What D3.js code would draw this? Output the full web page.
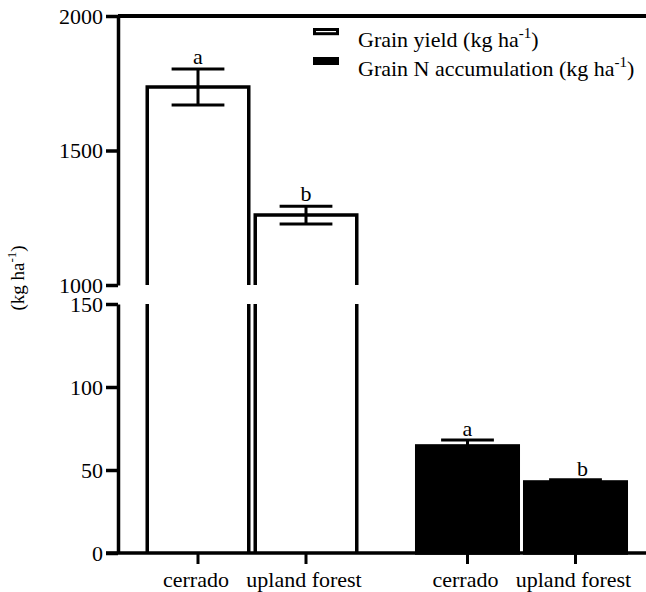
<!DOCTYPE html>
<html>
<head>
<meta charset="utf-8">
<script src="https://cdn.jsdelivr.net/npm/d3@7"></script>
</head>
<body style="margin:0;padding:0;background:#fff">
<svg id="chart" width="646" height="592"></svg>
<script>
// ---- data ----
const groups = ["Grain yield", "Grain N accumulation"];
const categories = ["cerrado", "upland forest"];
const yieldValues = [1736, 1260];
const yieldErrors = [67, 33];
const yieldLetters = ["a", "b"];
const nValues = [64.5, 42.8];
const nErrors = [3.5, 1.3];
const nLetters = ["a", "b"];
const upperTicks = [1000, 1500, 2000];
const lowerTicks = [0, 50, 100, 150];

const FONT = "Liberation Serif";
const svg = d3.select("#chart");
const W = 646;
const axisX = 118;
const fs = 22;

// scales
const outer = d3.scaleBand().domain(groups).range([144, 629.5]).paddingInner(0.1985).paddingOuter(0);
const inner = d3.scaleBand().domain(categories).range([0, outer.bandwidth()]).paddingInner(0.06).paddingOuter(0.03);
const yU = d3.scaleLinear().domain([1000, 2000]).range([285, 16]);
const yL = d3.scaleLinear().domain([0, 150]).range([553, 304]);

const lw = 3.5;
function txt(sel) { return sel.style("font-family", FONT).attr("fill", "#000"); }

// ---- white bars (grain yield) ----
const yieldData = categories.map((c, i) => ({c, v: yieldValues[i], e: yieldErrors[i], l: yieldLetters[i]}));
const gx0 = outer(groups[0]);
yieldData.forEach(d => {
  const x0 = gx0 + inner(d.c), x1 = x0 + inner.bandwidth();
  svg.append("path")
    .attr("d", `M${x0},${yU.range()[0]}V${yU(d.v)}H${x1}V${yU.range()[0]}`)
    .attr("fill", "#fff").attr("stroke", "#000").attr("stroke-width", lw);
  svg.append("path")
    .attr("d", `M${x0},${yL.range()[1]}V${yL.range()[0]}M${x1},${yL.range()[1]}V${yL.range()[0]}`)
    .attr("fill", "none").attr("stroke", "#000").attr("stroke-width", lw);
  const cx = (x0 + x1) / 2, cw = inner.bandwidth() * 0.26;
  svg.append("path")
    .attr("d", `M${cx},${yU(d.v + d.e)}V${yU(d.v - d.e)}M${cx - cw},${yU(d.v + d.e)}H${cx + cw}M${cx - cw},${yU(d.v - d.e)}H${cx + cw}`)
    .attr("fill", "none").attr("stroke", "#000").attr("stroke-width", 3);
  txt(svg.append("text")).attr("x", cx).attr("y", yU(d.v + d.e) - 5)
    .attr("text-anchor", "middle").attr("font-size", fs).text(d.l);
});

// ---- black bars (grain N) ----
const nData = categories.map((c, i) => ({c, v: nValues[i], e: nErrors[i], l: nLetters[i]}));
const gx1 = outer(groups[1]);
nData.forEach((d, i) => {
  const x0 = gx1 + inner(d.c), x1 = x0 + inner.bandwidth();
  svg.append("rect")
    .attr("x", x0).attr("y", yL(d.v)).attr("width", x1 - x0).attr("height", yL(0) - yL(d.v))
    .attr("fill", "#000").attr("stroke", "#000").attr("stroke-width", lw);
  const cx = (x0 + x1) / 2, cw = inner.bandwidth() * 0.26;
  svg.append("path")
    .attr("d", `M${cx},${yL(d.v)}V${yL(d.v + d.e)}M${cx - cw},${yL(d.v + d.e)}H${cx + cw}`)
    .attr("fill", "none").attr("stroke", "#000").attr("stroke-width", 3);
  txt(svg.append("text")).attr("x", cx + (i === 1 ? 7 : 0)).attr("y", yL(d.v + d.e) - 4)
    .attr("text-anchor", "middle").attr("font-size", fs).text(d.l);
});

// ---- y axes ----
function styleAxis(g) {
  g.attr("font-family", null).attr("font-size", null);
  g.selectAll(".domain").attr("stroke-width", lw).attr("stroke", "#000");
  g.selectAll(".tick line").attr("stroke-width", 3.5).attr("stroke", "#000");
  txt(g.selectAll(".tick text")).attr("font-size", fs).attr("dy", "0.34em");
}
const gU = svg.append("g").attr("transform", `translate(${axisX},0)`)
  .call(d3.axisLeft(yU).tickValues(upperTicks).tickFormat(d3.format("d")).tickSize(12).tickSizeOuter(0).tickPadding(3));
styleAxis(gU);
const gL = svg.append("g").attr("transform", `translate(${axisX},0)`)
  .call(d3.axisLeft(yL).tickValues(lowerTicks).tickFormat(d3.format("d")).tickSize(12).tickSizeOuter(0).tickPadding(3));
styleAxis(gL);

// top line
svg.append("line").attr("x1", axisX).attr("x2", W).attr("y1", yU(2000)).attr("y2", yU(2000))
  .attr("stroke", "#000").attr("stroke-width", 4);

// x axis
svg.append("line").attr("x1", axisX - 12).attr("x2", W).attr("y1", yL(0)).attr("y2", yL(0))
  .attr("stroke", "#000").attr("stroke-width", lw);
const xTicks = [];
groups.forEach(g => categories.forEach(c => xTicks.push({x: outer(g) + inner(c) + inner.bandwidth() / 2, label: c})));
const xt = svg.append("g");
xt.selectAll("line").data(xTicks).join("line")
  .attr("x1", d => d.x).attr("x2", d => d.x).attr("y1", yL(0)).attr("y2", yL(0) + 11)
  .attr("stroke", "#000").attr("stroke-width", 3);
txt(xt.selectAll("text").data(xTicks).join("text"))
  .attr("x", d => d.x - 2).attr("y", 587).attr("text-anchor", "middle").attr("font-size", fs).text(d => d.label);

// y label
const yl = txt(svg.append("text")).attr("transform", "translate(24,278) rotate(-90)")
  .attr("text-anchor", "middle").attr("font-size", 19);
yl.append("tspan").text("(kg ha");
yl.append("tspan").attr("font-size", 13).attr("dy", -8).text("-1");
yl.append("tspan").attr("dy", 8).text(")");

// legend
const leg = svg.append("g");
const legRows = [{label: "Grain yield (kg ha", fill: "#fff", y: 47, h: 4.2}, {label: "Grain N accumulation (kg ha", fill: "#000", y: 76, h: 5}];
legRows.forEach(r => {
  leg.append("rect").attr("x", 314.5).attr("y", r.y - 17.5).attr("width", 23).attr("height", r.h)
    .attr("fill", r.fill).attr("stroke", "#000").attr("stroke-width", 3);
  const t = txt(leg.append("text")).attr("x", 358).attr("y", r.y).attr("font-size", fs);
  t.append("tspan").text(r.label);
  t.append("tspan").attr("font-size", 15).attr("dy", -9).text("-1");
  t.append("tspan").attr("dy", 9).text(")");
});
</script>
</body>
</html>
